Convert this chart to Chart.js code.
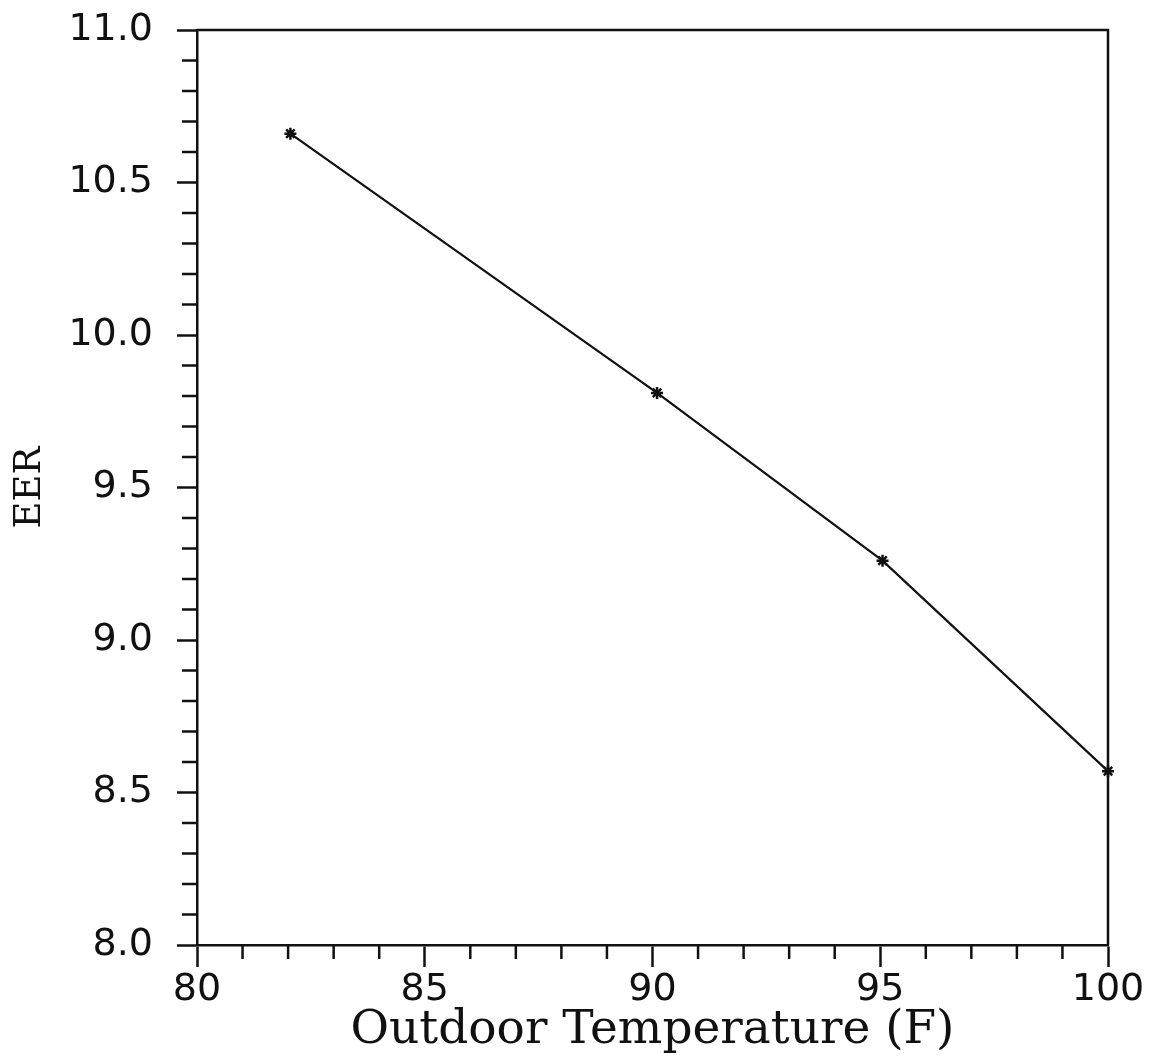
<!DOCTYPE html>
<html>
<head>
<meta charset="utf-8">
<script src="https://cdn.jsdelivr.net/npm/chart.js@4.4.1/dist/chart.umd.min.js"></script>
<style>
  html, body { margin: 0; padding: 0; background: #fff; }
  canvas { display: block; }
</style>
</head>
<body>
<canvas id="eer" width="1151" height="1062"></canvas>
<script>
// outdoor temperature (F) vs EER
const temps = [82.05, 90.1, 95.05, 100];
const eer = [10.66, 9.81, 9.26, 8.57];

const xRange = [80, 100];
const yRange = [8.0, 11.0];
const xMajorStep = 5;
const yMajorStep = 0.5;
const xMinorStep = 1;
const yMinorStep = 0.1;

const ink = "#111";
const axisWidth = 2.5;

Chart.defaults.font.family = "'DejaVu Sans', sans-serif";
Chart.defaults.color = ink;

// frame on top/right plus the short minor ticks
const frameAndMinorTicks = {
  id: "frameAndMinorTicks",
  afterDraw(chart) {
    const { ctx, chartArea: a, scales } = chart;
    ctx.save();
    ctx.strokeStyle = ink;
    ctx.lineWidth = axisWidth;
    ctx.beginPath();
    ctx.moveTo(a.left, a.top);
    ctx.lineTo(a.right, a.top);
    ctx.lineTo(a.right, a.bottom);
    ctx.stroke();

    ctx.beginPath();
    const nx = Math.round((xRange[1] - xRange[0]) / xMinorStep);
    for (let i = 0; i <= nx; i++) {
      const v = xRange[0] + i * xMinorStep;
      if (Math.abs(v / xMajorStep - Math.round(v / xMajorStep)) < 1e-6) continue;
      const px = scales.x.getPixelForValue(v);
      ctx.moveTo(px, a.bottom);
      ctx.lineTo(px, a.bottom + 14);
    }
    const ny = Math.round((yRange[1] - yRange[0]) / yMinorStep);
    for (let i = 0; i <= ny; i++) {
      const v = yRange[0] + i * yMinorStep;
      if (Math.abs(v / yMajorStep - Math.round(v / yMajorStep)) < 1e-6) continue;
      const py = scales.y.getPixelForValue(v);
      ctx.moveTo(a.left - 15, py);
      ctx.lineTo(a.left, py);
    }
    ctx.stroke();
    ctx.restore();
  },
};

new Chart(document.getElementById("eer").getContext("2d"), {
  type: "line",
  data: {
    datasets: [
      {
        data: temps.map((t, i) => ({ x: t, y: eer[i] })),
        borderColor: ink,
        borderWidth: 2.2,
        backgroundColor: ink,
        pointStyle: "star",
        pointRadius: 6,
        pointBorderWidth: 2.5,
        pointBorderColor: ink,
        fill: false,
        tension: 0,
        clip: false,
      },
    ],
  },
  options: {
    responsive: false,
    animation: false,
    layout: {
      padding: { top: 30, right: 43, left: 0, bottom: 0 },
    },
    plugins: {
      legend: { display: false },
      tooltip: { enabled: false },
    },
    scales: {
      x: {
        type: "linear",
        min: xRange[0],
        max: xRange[1],
        afterFit: (s) => { s.height = 117; },
        ticks: {
          stepSize: xMajorStep,
          padding: 0,
          font: { size: 38 },
          color: ink,
          maxRotation: 0,
        },
        grid: {
          drawOnChartArea: false,
          drawTicks: true,
          tickLength: 22,
          tickWidth: axisWidth,
          tickColor: ink,
        },
        border: { display: true, color: ink, width: axisWidth },
        title: {
          display: true,
          text: "Outdoor Temperature (F)",
          color: ink,
          font: { family: "'DejaVu Serif', serif", size: 47 },
          padding: { top: 0, bottom: 3 },
        },
      },
      y: {
        min: yRange[0],
        max: yRange[1],
        afterFit: (s) => {
          s.width = 197;
          s.paddingTop = 0;
          s.paddingBottom = 0;
        },
        ticks: {
          stepSize: yMajorStep,
          padding: 24,
          font: { size: 38 },
          color: ink,
          callback: (v) => Number(v).toFixed(1),
        },
        grid: {
          drawOnChartArea: false,
          drawTicks: true,
          tickLength: 20,
          tickWidth: axisWidth,
          tickColor: ink,
        },
        border: { display: true, color: ink, width: axisWidth },
        title: {
          display: true,
          text: "EER",
          color: ink,
          font: { family: "'DejaVu Serif', serif", size: 37 },
          padding: { top: 8, bottom: 0 },
        },
      },
    },
  },
  plugins: [frameAndMinorTicks],
});
</script>
</body>
</html>
